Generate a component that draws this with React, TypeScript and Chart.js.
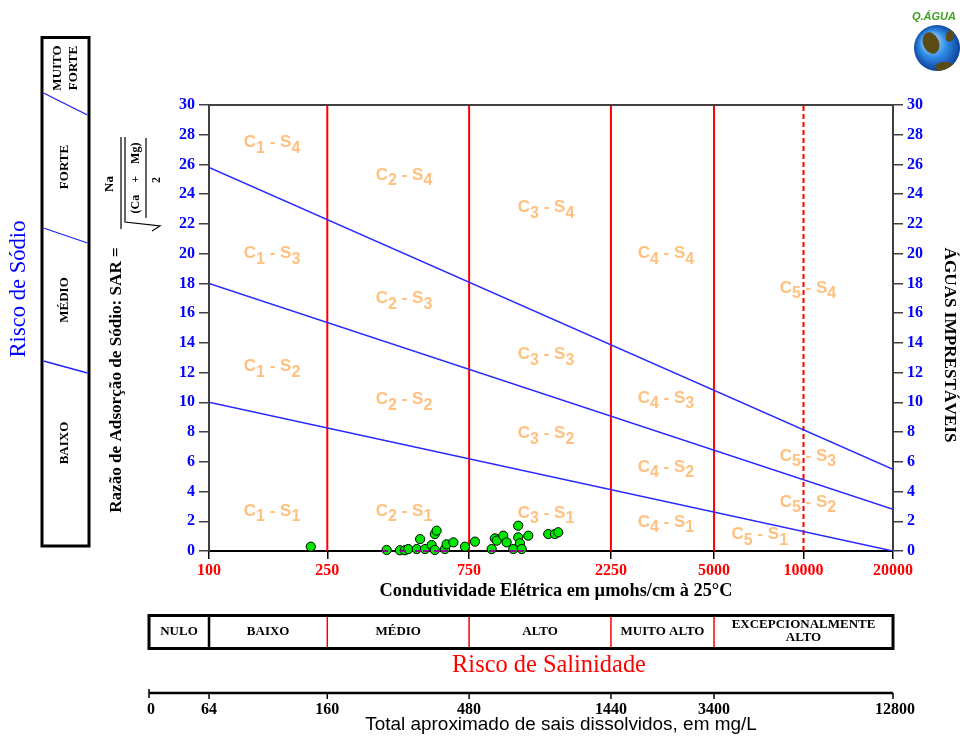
import { useEffect, useRef } from 'react';
import { Chart, registerables } from 'chart.js';
Chart.register(...registerables);

// ---------- data ----------
const EC_TICKS = [100, 250, 750, 2250, 5000, 10000, 20000];
const SAR_MIN = 0;
const SAR_MAX = 30;
const SAR_STEP = 2;
const EC_MIN = 100;
const EC_MAX = 20000;

const CLASS_BOUNDS_EC = [250, 750, 2250, 5000];
const DASHED_BOUND_EC = 10000;

// SAR boundary lines: value at EC=100 and at EC=20000
const SODIUM_S1_S2 = [10, 0];
const SODIUM_S2_S3 = [18, 2.8];
const SODIUM_S3_S4 = [25.8, 5.5];

const SAMPLE_EC = [220, 396, 439, 456, 468, 500, 513, 533, 561, 575, 583, 575, 622, 630, 664, 726, 785, 893, 916, 929, 977, 1003, 1056, 1097, 1097, 1112, 1127, 1186, 1384, 1458, 1496];
const SAMPLE_SAR = [0.29, 0.07, 0.05, 0.05, 0.13, 0.13, 0.8, 0.13, 0.4, 1.14, 1.37, 0.07, 0.13, 0.45, 0.58, 0.29, 0.63, 0.13, 0.85, 0.7, 1.03, 0.58, 0.13, 1.7, 0.92, 0.52, 0.13, 1.03, 1.14, 1.14, 1.26];
const RUG_EC = [391, 449, 505, 537, 585, 622, 895, 1053, 1120];

// zone labels: [C index, S index, EC, SAR]
const ZONE_C = [1, 2, 3, 4, 5, 1, 2, 3, 4, 5, 1, 2, 3, 4, 5, 1, 2, 3, 4, 5];
const ZONE_S = [4, 4, 4, 4, 4, 3, 3, 3, 3, 3, 2, 2, 2, 2, 2, 1, 1, 1, 1, 1];
const ZONE_EC = [163, 453, 1361, 3445, 10350, 163, 453, 1361, 3445, 10350, 163, 453, 1361, 3445, 10350, 163, 453, 1361, 3445, 7130];
const ZONE_SAR = [27.5, 25.3, 23.1, 20.0, 17.7, 20.0, 17.0, 13.2, 10.3, 6.4, 12.4, 10.2, 7.9, 5.65, 3.3, 2.7, 2.7, 2.55, 1.95, 1.1];

const SAL_CLASSES = ['NULO', 'BAIXO', 'MÉDIO', 'ALTO', 'MUITO ALTO', 'EXCEPCIONALMENTE|ALTO'];
const SAL_BOUNDS_EC = [null, 100, 250, 750, 2250, 5000, 20000];
const TDS_TICKS = [0, 64, 160, 480, 1440, 3400, 12800];
const TDS_EC = [null, 100, 250, 750, 2250, 5000, 20000];

const SODIUM_CLASSES = ['MUITO|FORTE', 'FORTE', 'MÉDIO', 'BAIXO'];

// ---------- helpers ----------
const SERIF = '"Liberation Serif", "Times New Roman", serif';
const SANS = '"Liberation Sans", Arial, sans-serif';

function fitSize(ctx: CanvasRenderingContext2D, text: string, weight: string, family: string, target: number) {
  ctx.font = `${weight} 20px ${family}`;
  const w = ctx.measureText(text).width;
  return (20 * target) / w;
}

function rotText(ctx: CanvasRenderingContext2D, text: string, x: number, y: number, angle: number) {
  ctx.save();
  ctx.translate(x, y);
  ctx.rotate(angle);
  ctx.textAlign = 'center';
  ctx.textBaseline = 'middle';
  ctx.fillText(text, 0, 0);
  ctx.restore();
}

function drawZone(ctx: CanvasRenderingContext2D, cx: number, cy: number, c: number, s: number) {
  const big = `bold 17px ${SANS}`;
  const small = `bold 16px ${SANS}`;
  const parts: [string, string, number][] = [
    ['C', big, 0],
    [String(c), small, 6],
    [' - ', big, 0],
    ['S', big, 0],
    [String(s), small, 6],
  ];
  let total = 0;
  const widths = parts.map(([t, f]) => {
    ctx.font = f;
    const w = ctx.measureText(t).width;
    total += w;
    return w;
  });
  let x = cx - total / 2;
  ctx.fillStyle = '#FFC080';
  ctx.textAlign = 'left';
  ctx.textBaseline = 'middle';
  parts.forEach(([t, f, dy], i) => {
    ctx.font = f;
    ctx.fillText(t, x, cy + dy);
    x += widths[i];
  });
}

const decor = {
  id: 'decor',
  beforeDatasetsDraw(chart: any) {
    const ctx: CanvasRenderingContext2D = chart.ctx;
    const xs = chart.scales.x;
    const ys = chart.scales.y;
    ctx.save();
    for (let i = 0; i < ZONE_C.length; i++) {
      drawZone(ctx, xs.getPixelForValue(ZONE_EC[i]), ys.getPixelForValue(ZONE_SAR[i]), ZONE_C[i], ZONE_S[i]);
    }
    ctx.restore();
  },
  afterDraw(chart: any) {
    const ctx: CanvasRenderingContext2D = chart.ctx;
    const xs = chart.scales.x;
    const { left, right, top } = chart.chartArea;
    ctx.save();

    // top border of plot
    ctx.strokeStyle = '#404040';
    ctx.lineWidth = 2;
    ctx.beginPath();
    ctx.moveTo(left - 1, top);
    ctx.lineTo(right + 1, top);
    ctx.stroke();

    // ---- left sodium box ----
    ctx.fillStyle = '#0000FF';
    ctx.font = `${fitSize(ctx, 'Risco de Sódio', 'normal', SERIF, 137)}px ${SERIF}`;
    rotText(ctx, 'Risco de Sódio', 19, 289, -Math.PI / 2);

    ctx.strokeStyle = '#000';
    ctx.lineWidth = 3;
    ctx.strokeRect(42, 37.5, 47, 508.5);
    ctx.strokeStyle = '#2020FF';
    ctx.lineWidth = 1.3;
    const dividers = [[93, 115], [228, 243], [361, 373]];
    dividers.forEach(([a, b]) => {
      ctx.beginPath();
      ctx.moveTo(43.5, a);
      ctx.lineTo(87.5, b);
      ctx.stroke();
    });
    ctx.fillStyle = '#000';
    ctx.font = `bold 13px ${SERIF}`;
    const sodY = [68, 167, 300, 443];
    SODIUM_CLASSES.forEach((lab, i) => {
      const lines = lab.split('|');
      if (lines.length === 2) {
        rotText(ctx, lines[0], 58, sodY[i], -Math.PI / 2);
        rotText(ctx, lines[1], 74, sodY[i], -Math.PI / 2);
      } else {
        rotText(ctx, lab, 65, sodY[i], -Math.PI / 2);
      }
    });

    // ---- y title + formula ----
    const yTitle = 'Razão de Adsorção de Sódio: SAR =';
    ctx.fillStyle = '#000';
    ctx.font = `bold ${fitSize(ctx, yTitle, 'bold', SERIF, 266)}px ${SERIF}`;
    rotText(ctx, yTitle, 117, 380, -Math.PI / 2);
    ctx.font = `bold 13px ${SERIF}`;
    rotText(ctx, 'Na', 110, 184, -Math.PI / 2);
    ctx.font = `bold 12px ${SERIF}`;
    rotText(ctx, '(Ca    +    Mg)', 136, 178, -Math.PI / 2);
    ctx.font = `bold 12px ${SERIF}`;
    rotText(ctx, '2', 157, 180, -Math.PI / 2);
    ctx.strokeStyle = '#000';
    ctx.lineWidth = 1.2;
    ctx.beginPath();
    ctx.moveTo(121, 137); ctx.lineTo(121, 229);
    ctx.moveTo(125, 137); ctx.lineTo(125, 222);
    ctx.lineTo(160, 226); ctx.lineTo(152, 231);
    ctx.moveTo(146, 138); ctx.lineTo(146, 218);
    ctx.stroke();

    // ---- right title ----
    const rTitle = 'ÁGUAS IMPRESTÁVEIS';
    ctx.font = `bold ${fitSize(ctx, rTitle, 'bold', SERIF, 195)}px ${SERIF}`;
    rotText(ctx, rTitle, 949, 345, Math.PI / 2);

    // ---- x title ----
    const xTitle = 'Condutividade Elétrica em µmohs/cm à 25°C';
    ctx.font = `bold ${fitSize(ctx, xTitle, 'bold', SERIF, 353)}px ${SERIF}`;
    ctx.textAlign = 'center';
    ctx.textBaseline = 'middle';
    ctx.fillText(xTitle, 556, 591);

    // ---- salinity class box ----
    const boxLeft = left - 60;
    const bx = SAL_BOUNDS_EC.map((v) => (v === null ? boxLeft : xs.getPixelForValue(v)));
    ctx.strokeStyle = '#000';
    ctx.lineWidth = 3;
    ctx.strokeRect(boxLeft, 615.5, bx[bx.length - 1] - boxLeft, 33);
    ctx.lineWidth = 2.5;
    ctx.beginPath();
    ctx.moveTo(bx[1], 616); ctx.lineTo(bx[1], 648);
    ctx.stroke();
    ctx.strokeStyle = '#FF0000';
    ctx.lineWidth = 1.5;
    for (let i = 2; i < bx.length - 1; i++) {
      ctx.beginPath();
      ctx.moveTo(bx[i], 617); ctx.lineTo(bx[i], 647);
      ctx.stroke();
    }
    ctx.fillStyle = '#000';
    ctx.font = `bold 13px ${SERIF}`;
    SAL_CLASSES.forEach((lab, i) => {
      const cx = (bx[i] + bx[i + 1]) / 2;
      const lines = lab.split('|');
      if (lines.length === 2) {
        ctx.fillText(lines[0], cx, 625);
        ctx.fillText(lines[1], cx, 638);
      } else {
        ctx.fillText(lab, cx, 632);
      }
    });

    const salTitle = 'Risco de Salinidade';
    ctx.fillStyle = '#FF0000';
    ctx.font = `${fitSize(ctx, salTitle, 'normal', SERIF, 194)}px ${SERIF}`;
    ctx.fillText(salTitle, 549, 666);

    // ---- TDS axis ----
    const tx = TDS_EC.map((v) => (v === null ? boxLeft : xs.getPixelForValue(v)));
    ctx.strokeStyle = '#000';
    ctx.lineWidth = 2.5;
    ctx.beginPath();
    ctx.moveTo(tx[0], 693);
    ctx.lineTo(tx[tx.length - 1], 693);
    ctx.stroke();
    ctx.lineWidth = 1.5;
    ctx.beginPath();
    ctx.moveTo(tx[0], 689); ctx.lineTo(tx[0], 698);
    for (let i = 1; i < tx.length; i++) {
      ctx.moveTo(tx[i], 693); ctx.lineTo(tx[i], 699);
    }
    ctx.stroke();
    ctx.fillStyle = '#000';
    ctx.font = `bold 16px ${SERIF}`;
    TDS_TICKS.forEach((t, i) => {
      ctx.fillText(String(t), i === 0 ? tx[i] + 2 : tx[i] + (i === tx.length - 1 ? 2 : 0), 710);
    });
    const tdsTitle = 'Total aproximado de sais dissolvidos, em mg/L';
    ctx.font = `${fitSize(ctx, tdsTitle, 'normal', SANS, 392)}px ${SANS}`;
    ctx.fillText(tdsTitle, 561, 725);

    // ---- logo ----
    ctx.save();
    ctx.beginPath();
    ctx.arc(937, 48, 23, 0, Math.PI * 2);
    const g = ctx.createRadialGradient(929, 40, 3, 937, 48, 24);
    g.addColorStop(0, '#bfe6ff');
    g.addColorStop(0.5, '#2f8be6');
    g.addColorStop(1, '#0a3d96');
    ctx.fillStyle = g;
    ctx.fill();
    ctx.clip();
    ctx.fillStyle = '#5b4b17';
    ctx.beginPath();
    ctx.ellipse(931, 43, 8, 11, -0.4, 0, Math.PI * 2);
    ctx.fill();
    ctx.beginPath();
    ctx.ellipse(945, 67, 10, 5, 0, 0, Math.PI * 2);
    ctx.fill();
    ctx.beginPath();
    ctx.ellipse(950, 36, 4, 6, 0.3, 0, Math.PI * 2);
    ctx.fill();
    ctx.restore();
    ctx.fillStyle = '#40a020';
    ctx.font = `italic bold 11px ${SANS}`;
    ctx.textAlign = 'center';
    ctx.fillText('Q.ÁGUA', 934, 17);

    ctx.restore();
  },
};

function lineData(ec1: number, v1: number, ec2: number, v2: number) {
  return [{ x: ec1, y: v1 }, { x: ec2, y: v2 }];
}

export default function App() {
  const ref = useRef<HTMLCanvasElement | null>(null);
  useEffect(() => {
    if (!ref.current) return;
    const sodiumLines = [SODIUM_S1_S2, SODIUM_S2_S3, SODIUM_S3_S4].map((l) => ({
      data: lineData(EC_MIN, l[0], EC_MAX, l[1]),
      showLine: true,
      pointRadius: 0,
      borderColor: '#2828FF',
      borderWidth: 1.5,
    }));
    const redLines = CLASS_BOUNDS_EC.map((ec) => ({
      data: lineData(ec, SAR_MIN, ec, SAR_MAX),
      showLine: true,
      pointRadius: 0,
      borderColor: '#FF0000',
      borderWidth: 2,
    }));
    const dashed = {
      data: lineData(DASHED_BOUND_EC, SAR_MIN, DASHED_BOUND_EC, SAR_MAX),
      showLine: true,
      pointRadius: 0,
      borderColor: '#FF0000',
      borderWidth: 2,
      borderDash: [5, 3],
    };
    const tickFontY = { family: SERIF, size: 16, weight: 'bold' as const };
    const yCommon = {
      type: 'linear' as const,
      min: SAR_MIN,
      max: SAR_MAX,
      ticks: { stepSize: SAR_STEP, color: '#0000FF', font: tickFontY, padding: 4 },
      grid: { drawOnChartArea: false, drawTicks: true, tickLength: 10, color: '#404040', lineWidth: 1.5 },
      border: { color: '#404040', width: 2 },
    };
    const chart = new Chart(ref.current, {
      type: 'scatter',
      data: {
        datasets: [
          {
            data: RUG_EC.map((x) => ({ x, y: 0 })),
            pointStyle: 'line',
            pointRadius: 3,
            borderColor: '#900090',
            borderWidth: 2,
            clip: false,
          } as any,
          {
            data: SAMPLE_EC.map((x, i) => ({ x, y: SAMPLE_SAR[i] })),
            pointRadius: 4.6,
            backgroundColor: '#00E600',
            borderColor: '#000000',
            borderWidth: 1,
            clip: false,
          } as any,
          ...sodiumLines,
          ...redLines,
          dashed,
        ],
      },
      options: {
        responsive: false,
        devicePixelRatio: 1,
        animation: false,
        events: [],
        layout: { padding: { left: 170, right: 25, top: 105, bottom: 157 } },
        plugins: { legend: { display: false }, tooltip: { enabled: false } },
        scales: {
          x: {
            type: 'logarithmic',
            min: EC_MIN,
            max: EC_MAX,
            afterBuildTicks: (s: any) => {
              s.ticks = EC_TICKS.map((v) => ({ value: v }));
            },
            afterFit: (s: any) => {
              s.height = 30;
            },
            ticks: {
              autoSkip: false,
              maxRotation: 0,
              color: '#FF0000',
              font: { family: SERIF, size: 16, weight: 'bold' },
              padding: 2,
              callback: (v: any) => String(v),
            },
            grid: { drawOnChartArea: false, drawTicks: true, tickLength: 8, color: '#000', lineWidth: 1.5 },
            border: { color: '#000', width: 2 },
          },
          y: {
            ...yCommon,
            position: 'left',
            afterFit: (s: any) => {
              s.width = 39;
            },
          },
          y2: {
            ...yCommon,
            position: 'right',
            afterFit: (s: any) => {
              s.width = 42;
            },
          },
        },
      } as any,
      plugins: [decor],
    });
    return () => chart.destroy();
  }, []);
  return (
    <div style={{ position: 'absolute', left: 0, top: 0, width: 960, height: 738, background: '#fff' }}>
      <canvas ref={ref} width={960} height={738} />
    </div>
  );
}
